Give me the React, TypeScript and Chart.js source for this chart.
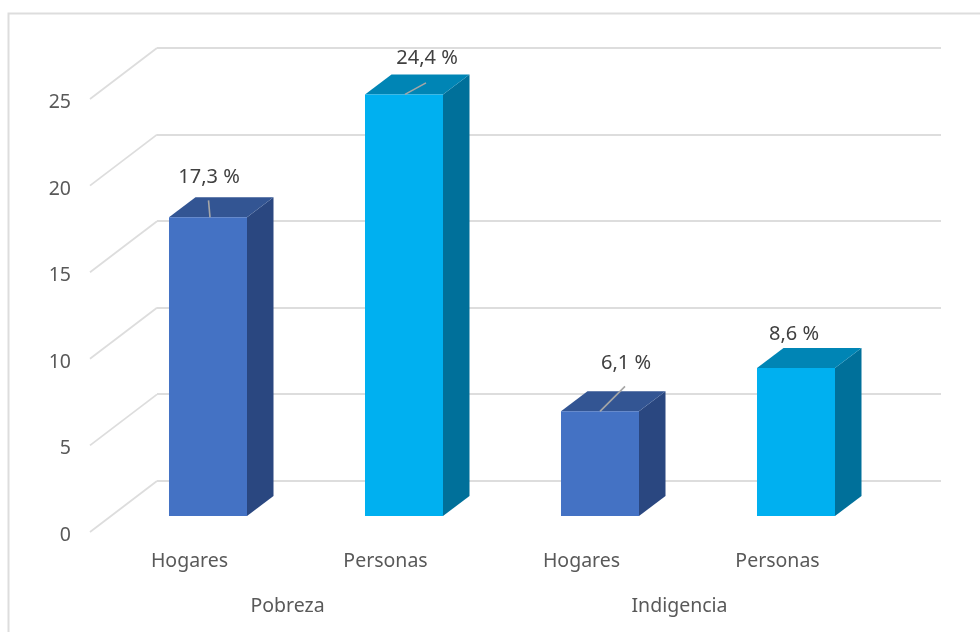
import React, { useEffect, useRef } from "react";
import { Chart, registerables } from "chart.js";

Chart.register(...registerables);

const categories = ["Hogares", "Personas", "Hogares", "Personas"];
const groups = ["Pobreza", "Indigencia"];
const values = [17.3, 24.4, 6.1, 8.6];
const valueLabels = ["17,3 %", "24,4 %", "6,1 %", "8,6 %"];
const yMax = 25;
const yStep = 5;

const frontColors = ["#4472C4", "#00B0F0", "#4472C4", "#00B0F0"];
const sideColors = ["#2A4780", "#00709A", "#2A4780", "#00709A"];
const topColors = ["#335593", "#0085B5", "#335593", "#0085B5"];

// Label placement relative to each bar's front top-centre (as dragged in the original)
const labelOffsets = [[1, -40], [23, -36], [26, -48], [-2, -34]];
const leaderLines = [
  [2, 0, 0.5, -17],
  [1, 0, 22, -11.5],
  [0, 0, 25, -25],
  null,
];

const FONT = "'Noto Sans', sans-serif";
const GRID = "#DDDDDD";
const WALL_DX = 67;
const WALL_DY = 51;
const BAR_DX = 26.5;
const BAR_DY = 20;
const FRONT_SHIFT_X = -47;
const FRONT_SHIFT_Y = 36;

const frame = {
  id: "frame",
  beforeDraw(chart: any) {
    const { ctx } = chart;
    ctx.save();
    ctx.strokeStyle = GRID;
    ctx.lineWidth = 2;
    ctx.beginPath();
    ctx.moveTo(8.5, chart.height);
    ctx.lineTo(8.5, 13.5);
    ctx.lineTo(chart.width, 13.5);
    ctx.stroke();
    ctx.restore();
  },
};

const sideWall = {
  id: "sideWall",
  beforeDatasetsDraw(chart: any) {
    const { ctx, scales } = chart;
    const y = scales.y;
    ctx.save();
    ctx.strokeStyle = GRID;
    ctx.lineWidth = 1.8;
    y.ticks.forEach((t: any) => {
      const py = y.getPixelForValue(t.value);
      ctx.beginPath();
      ctx.moveTo(y.right, py);
      ctx.lineTo(y.right - WALL_DX, py + WALL_DY);
      ctx.stroke();
    });
    ctx.restore();
  },
};

const bars3d = {
  id: "bars3d",
  beforeDatasetDraw(chart: any, args: any) {
    const { ctx } = chart;
    const meta = args.meta;
    ctx.save();
    ctx.translate(FRONT_SHIFT_X, FRONT_SHIFT_Y);
    meta.data.forEach((bar: any, i: number) => {
      const left = bar.x - bar.width / 2;
      const right = bar.x + bar.width / 2;
      ctx.fillStyle = sideColors[i];
      ctx.beginPath();
      ctx.moveTo(right, bar.y);
      ctx.lineTo(right + BAR_DX, bar.y - BAR_DY);
      ctx.lineTo(right + BAR_DX, bar.base - BAR_DY);
      ctx.lineTo(right, bar.base);
      ctx.closePath();
      ctx.fill();
      ctx.fillStyle = topColors[i];
      ctx.beginPath();
      ctx.moveTo(left, bar.y);
      ctx.lineTo(left + BAR_DX, bar.y - BAR_DY);
      ctx.lineTo(right + BAR_DX, bar.y - BAR_DY);
      ctx.lineTo(right, bar.y);
      ctx.closePath();
      ctx.fill();
    });
  },
  afterDatasetDraw(chart: any, args: any) {
    const { ctx } = chart;
    const meta = args.meta;
    ctx.strokeStyle = "#A6A6A6";
    ctx.lineWidth = 1.6;
    meta.data.forEach((bar: any, i: number) => {
      const l = leaderLines[i];
      if (l) {
        ctx.beginPath();
        ctx.moveTo(bar.x + l[0], bar.y + l[1]);
        ctx.lineTo(bar.x + l[2], bar.y + l[3]);
        ctx.stroke();
      }
      ctx.fillStyle = "#404040";
      ctx.font = `20px ${FONT}`;
      ctx.textAlign = "center";
      ctx.textBaseline = "middle";
      ctx.fillText(valueLabels[i], bar.x + labelOffsets[i][0], bar.y + labelOffsets[i][1]);
    });
    ctx.restore();
  },
};

export default function App() {
  const ref = useRef<HTMLCanvasElement>(null);
  useEffect(() => {
    const chart = new Chart(ref.current!, {
      type: "bar",
      data: {
        labels: categories,
        datasets: [
          {
            data: values,
            backgroundColor: frontColors,
            barPercentage: 0.398,
            categoryPercentage: 1,
            clip: false,
          } as any,
        ],
      },
      options: {
        animation: false,
        responsive: false,
        maintainAspectRatio: false,
        layout: { padding: { left: 0, right: 39, top: 48, bottom: 0 } },
        plugins: { legend: { display: false }, tooltip: { enabled: false } },
        scales: {
          y: {
            min: 0,
            max: yMax,
            afterFit: (s: any) => { s.width = 157; s.paddingTop = 0; s.paddingBottom = 0; },
            ticks: {
              stepSize: yStep,
              labelOffset: WALL_DY + 3.5,
              padding: 86,
              color: "#595959",
              font: { family: FONT, size: 19.5 },
            },
            grid: { color: GRID, lineWidth: 2, drawTicks: false, tickLength: 0 },
            border: { display: false },
          },
          x: {
            position: "bottom",
            afterFit: (s: any) => { s.height = 100; s.paddingLeft = 0; s.paddingRight = 0; },
            ticks: {
              labelOffset: -65.5,
              padding: 69,
              maxRotation: 0,
              autoSkip: false,
              color: "#595959",
              font: { family: FONT, size: 19.5 },
            },
            grid: { display: false, drawTicks: false, tickLength: 0 },
            border: { display: false },
          },
          x2: {
            type: "category",
            position: "bottom",
            labels: groups,
            afterFit: (s: any) => { s.height = 51; s.paddingLeft = 0; s.paddingRight = 0; },
            ticks: {
              labelOffset: -65.5,
              padding: 14,
              maxRotation: 0,
              color: "#595959",
              font: { family: FONT, size: 19.5 },
            },
            grid: { display: false, drawTicks: false, tickLength: 0 },
            border: { display: false },
          },
        },
      } as any,
      plugins: [frame, sideWall, bars3d],
    });
    return () => chart.destroy();
  }, []);
  return (
    <canvas
      ref={ref}
      width={980}
      height={632}
      style={{ position: "absolute", left: 0, top: 0, width: 980, height: 632, background: "#fff" }}
    />
  );
}
